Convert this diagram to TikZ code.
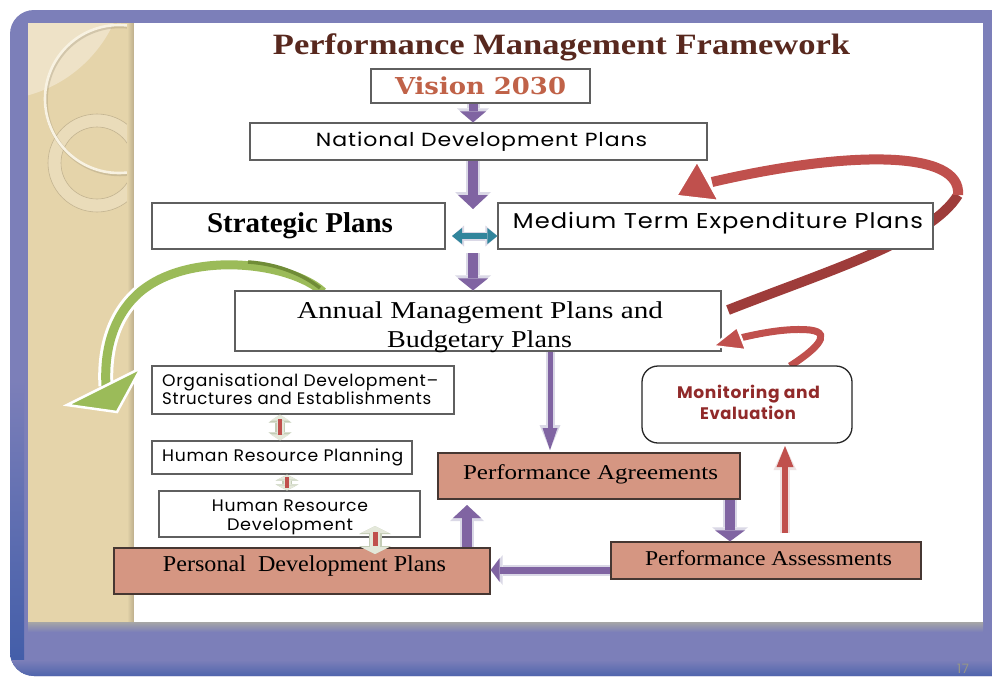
\documentclass[tikz,border=0pt]{standalone}
\usepackage{fontspec}
\usepackage{graphicx}
\usetikzlibrary{arrows.meta,fit}
\newfontfamily\popf{Poppins}[LetterSpace=4]
\newfontfamily\dvs{DejaVu Serif}
\newfontfamily\lser{Liberation Serif}
\newcommand\fitw[2]{\resizebox{#1pt}{\height}{#2}}
\newcommand\fs[1]{\fontsize{#1}{#1}\selectfont}
\definecolor{frameblue}{RGB}{124,127,185}
\definecolor{framedark}{RGB}{64,92,168}
\definecolor{beige}{RGB}{229,212,170}
\definecolor{beigelt}{RGB}{238,226,199}
\definecolor{ringc}{RGB}{248,242,226}
\definecolor{titlec}{RGB}{88,40,30}
\definecolor{visionc}{RGB}{192,98,72}
\definecolor{salmon}{RGB}{213,150,130}
\definecolor{sboxline}{RGB}{70,55,50}
\definecolor{boxline}{RGB}{95,95,95}
\definecolor{purp}{RGB}{128,100,162}
\definecolor{glowc}{RGB}{218,216,230}
\definecolor{tealc}{RGB}{49,133,156}
\definecolor{redA}{RGB}{192,80,77}
\definecolor{redD}{RGB}{158,60,58}
\definecolor{redglow}{RGB}{238,226,226}
\definecolor{greenA}{RGB}{155,187,89}
\definecolor{greenD}{RGB}{112,140,55}
\definecolor{monc}{RGB}{145,42,42}
\definecolor{smallc}{RGB}{228,232,218}
\definecolor{smalle}{RGB}{196,205,182}
\definecolor{pagec}{RGB}{150,150,135}
\tikzset{
  box/.style={draw=boxline, line width=1.2pt, fill=white, inner sep=0pt},
  sbox/.style={draw=sboxline, line width=1.4pt, fill=salmon, inner sep=0pt},
  mbox/.style={draw=black!85, line width=1.3pt, fill=white, rounded corners=16pt, inner sep=0pt},
  txt/.style={inner sep=0pt, anchor=base},
  txtw/.style={inner sep=0pt, anchor=base west},
}
\begin{document}
\begin{tikzpicture}[x=1pt,y=-1pt]
\useasboundingbox (0,0) rectangle (992,678);
\fill[white] (0,0) rectangle (992,678);
% slide frame
\fill[frameblue, rounded corners=24pt] (10,10) rectangle (1030,676);
\begin{scope}
  \clip[rounded corners=24pt] (10,10) rectangle (1030,676);
  \shade[top color=frameblue, bottom color=framedark] (10,380) rectangle (24,676);
  \shade[top color=frameblue, bottom color=framedark!75!frameblue] (10,660) rectangle (992,676);
\end{scope}
% beige strip with circles
\fill[beige] (28,23) rectangle (134,622);
\begin{scope}
  \clip (28,23) rectangle (134,622);
  \fill[beigelt] (-7,-33) circle (133);
  \fill[beigelt!55!beige, even odd rule] (97,163) circle (49) (97,163) circle (36);
  \draw[beige!85!black, line width=0.6pt] (97,163) circle (49);
  \draw[beige!85!black, line width=0.6pt] (97,163) circle (36);
  \draw[beige!70!black, line width=3.5pt, opacity=0.35] (120,100.5) circle (74);
  \draw[ringc, line width=2.6pt] (119,99) circle (74);
  \shade[left color=beige, right color=beige!82!black] (127,23) rectangle (134,622);
\end{scope}
% white content area
\fill[white] (134,23) rectangle (983,622);
\shade[top color=black!35, bottom color=frameblue] (28,622) rectangle (983,632);

% green curved arrow
\draw[white, line width=15pt] (323,292) .. controls (290,262) and (190,250) .. (140,292) .. controls (112,316) and (104,352) .. (106,386);
\draw[greenA, line width=9pt] (323,292) .. controls (290,262) and (190,250) .. (140,292) .. controls (112,316) and (104,352) .. (106,386);
\draw[greenD, line width=3.5pt] (320,288) .. controls (305,276) and (280,264) .. (248,262);
\filldraw[fill=greenA, draw=white, line width=2.5pt, line join=miter] (67,405) -- (141,368) -- (117,412) -- cycle;

% big red curved arrow
\draw[white, line width=16pt] (728,310) .. controls (830,270) and (930,240) .. (958,195) .. controls (962,150) and (850,150) .. (712,182);
\draw[redD, line width=10pt] (728,310) .. controls (830,270) and (930,240) .. (958,195);
\draw[redA, line width=10pt] (958,195) .. controls (962,150) and (850,150) .. (712,182);
\filldraw[fill=redA, draw=white, line width=2.5pt, line join=miter] (676,196) -- (697,161) -- (719,201) -- cycle;

% boxes
\node[box, fit={(371,69) (590,103)}] (vision) {};
\node[box, fit={(250,123) (707,160)}] (ndp) {};
\node[box, fit={(152,203) (445,249)}] (strat) {};
\node[box, fit={(498,203) (933,249)}] (mtep) {};
\node[box, fit={(235,291) (721,351)}] (amp) {};
\node[box, fit={(152,366) (454,414)}] (org) {};
\node[box, fit={(152,441) (412,474)}] (hrp) {};
\node[box, fit={(159,491) (420,537)}] (hrd) {};
\node[sbox, fit={(114,548) (490,594)}] (pdp) {};
\node[sbox, fit={(438,453) (740,499)}] (pa) {};
\node[sbox, fit={(611,542) (921,579)}] (pas) {};

% small red curved arrow (Monitoring -> Annual plans)
\draw[white, line width=12pt] (790,366) .. controls (812,352) and (835,333) .. (810,330) .. controls (790,328) and (765,332) .. (740,338);
\draw[redA, line width=7pt] (790,366) .. controls (812,352) and (835,333) .. (810,330) .. controls (790,328) and (765,332) .. (740,338);
\filldraw[fill=redA, draw=white, line width=2.2pt, line join=miter] (713,346) -- (737,327) -- (746,350) -- cycle;
\node[mbox, fit={(642,366) (852,443)}] (me) {};

% purple block arrows
\coordinate (a2e) at (473,209);
\coordinate (a3s) at (473,253);
\coordinate (a4e) at (550,450);
\coordinate (a7e) at (467,505);
\coordinate (rs) at (785,533);
\coordinate (re) at (785,446);
\coordinate (ts) at (452,236);
\draw[glowc, line width=13pt, -{Triangle[length=14pt,width=32pt,line width=0pt]}] (473,0 |- vision.south) -- (473,0 |- ndp.north);
\draw[purp, line width=9pt, -{Triangle[length=11pt,width=26pt,line width=0pt]}] (473,0 |- vision.south) -- (473,0 |- ndp.north);
\draw[glowc, line width=14pt, -{Triangle[length=17pt,width=36pt,line width=0pt]}] (473,0 |- ndp.south) -- (a2e);
\draw[purp, line width=10pt, -{Triangle[length=14pt,width=30pt,line width=0pt]}] (473,0 |- ndp.south) -- (a2e);
\draw[glowc, line width=14pt, -{Triangle[length=15pt,width=36pt,line width=0pt]}] (a3s) -- (473,0 |- amp.north);
\draw[purp, line width=10pt, -{Triangle[length=12pt,width=30pt,line width=0pt]}] (a3s) -- (473,0 |- amp.north);
\draw[glowc, line width=9pt, -{Triangle[length=25pt,width=21pt,line width=0pt]}] (550,0 |- amp.south) -- (a4e);
\draw[purp, line width=5pt, -{Triangle[length=22pt,width=15pt,line width=0pt]}] (550,0 |- amp.south) -- (a4e);
\draw[glowc, line width=14pt, -{Triangle[length=14pt,width=36pt,line width=0pt]}] (730,0 |- pa.south) -- (730,0 |- pas.north);
\draw[purp, line width=10pt, -{Triangle[length=11pt,width=30pt,line width=0pt]}] (730,0 |- pa.south) -- (730,0 |- pas.north);
\draw[glowc, line width=11pt, -{Triangle[length=12pt,width=30pt,line width=0pt]}] (pas.west |- 0,570) -- (pdp.east |- 0,570);
\draw[purp, line width=7pt, -{Triangle[length=9pt,width=24pt,line width=0pt]}] (pas.west |- 0,570) -- (pdp.east |- 0,570);
\draw[glowc, line width=14pt, -{Triangle[length=16pt,width=34pt,line width=0pt]}] (467,0 |- pdp.north) -- (a7e);
\draw[purp, line width=10pt, -{Triangle[length=13pt,width=28pt,line width=0pt]}] (467,0 |- pdp.north) -- (a7e);
% red up arrow
\draw[redglow, line width=10pt, -{Triangle[length=24pt,width=23pt,line width=0pt]}] (rs) -- (re);
\draw[redA, line width=6pt, -{Triangle[length=21pt,width=17pt,line width=0pt]}] (rs) -- (re);
% teal double arrow
\draw[glowc, line width=9pt, {Triangle[length=12pt,width=21pt,line width=0pt]}-{Triangle[length=12pt,width=21pt,line width=0pt]}] (ts) -- (mtep.west |- ts);
\draw[tealc, line width=6pt, {Triangle[length=10pt,width=16pt,line width=0pt]}-{Triangle[length=10pt,width=16pt,line width=0pt]}] (ts) -- (mtep.west |- ts);
% small double arrows (left column)
\draw[smalle, line width=10pt, {Triangle[length=8pt,width=23pt,line width=0pt]}-{Triangle[length=8pt,width=23pt,line width=0pt]}] (280,0 |- org.south) -- (280,0 |- hrp.north);
\draw[smallc, line width=7pt, {Triangle[length=6pt,width=19pt,line width=0pt]}-{Triangle[length=6pt,width=19pt,line width=0pt]}] (280,0 |- org.south) -- (280,0 |- hrp.north);
\draw[redA, line width=3.5pt] (280,419) -- (280,435);
\draw[smalle, line width=10pt, {Triangle[length=6pt,width=23pt,line width=0pt]}-{Triangle[length=6pt,width=23pt,line width=0pt]}] (287,0 |- hrp.south) -- (287,0 |- hrd.north);
\draw[smallc, line width=7pt, {Triangle[length=5pt,width=19pt,line width=0pt]}-{Triangle[length=5pt,width=19pt,line width=0pt]}] (287,0 |- hrp.south) -- (287,0 |- hrd.north);
\draw[redA, line width=3.5pt] (287,477) -- (287,488);
\coordinate (s3a) at (375,526);
\coordinate (s3b) at (375,554);
\draw[smalle, line width=13pt, {Triangle[length=8pt,width=32pt,line width=0pt]}-{Triangle[length=8pt,width=32pt,line width=0pt]}] (s3a) -- (s3b);
\draw[smallc, line width=10pt, {Triangle[length=7pt,width=28pt,line width=0pt]}-{Triangle[length=7pt,width=28pt,line width=0pt]}] (s3a) -- (s3b);
\draw[redA, line width=5pt] (375,532) -- (375,546);

% texts
\node[txt, text=titlec] (title) at (561.5,54) {\fitw{577}{\lser\fs{29.5}\bfseries Performance Management Framework}};
\node[txt, text=visionc] (visionT) at (480.5,94) {\fitw{171}{\dvs\fs{23.3}\bfseries Vision 2030}};
\node[txt] (ndpT) at (481.5,146.7) {\fitw{331}{\popf\fs{19}National Development Plans}};
\node[txt] (stratT) at (300,232.3) {\fitw{186}{\lser\fs{28.7}\bfseries Strategic Plans}};
\node[txt] (mtepT) at (718,228.3) {\fitw{410}{\popf\fs{21.4}Medium Term Expenditure Plans}};
\node[txt] (ampT1) at (480,318.3) {\fitw{366}{\lser\fs{24.2}Annual Management Plans and}};
\node[txt] (ampT2) at (479.5,347.3) {\fitw{185}{\lser\fs{24.2}Budgetary Plans}};
\node[txtw] (orgT1) at (162,386.7) {\fitw{276}{\popf\fs{16.7}Organisational Development–}};
\node[txtw] (orgT2) at (162,404.3) {\fitw{269}{\popf\fs{16.7}Structures and Establishments}};
\node[txtw] (hrpT) at (162,461.7) {\fitw{241}{\popf\fs{16.7}Human Resource Planning}};
\node[txt] (hrdT1) at (290,511.7) {\fitw{156}{\popf\fs{16.7}Human Resource}};
\node[txt] (hrdT2) at (290,530.7) {\fitw{126}{\popf\fs{16.7}Development}};
\node[txt] (pdpT) at (304.5,571.7) {\fitw{283}{\lser\fs{22.7}Personal~~Development Plans}};
\node[txt] (paT) at (590.5,479.3) {\fitw{255}{\lser\fs{21.1}Performance Agreements}};
\node[txt] (pasT) at (768.5,565.7) {\fitw{247}{\lser\fs{21.1}Performance Assessments}};
\node[txt, text=monc] (meT1) at (748.5,398.3) {\fitw{143}{\popf\bfseries\fs{16.7}Monitoring and}};
\node[txt, text=monc] (meT2) at (748,419) {\fitw{96}{\popf\bfseries\fs{16.7}Evaluation}};
\node[txt, text=pagec] (pnum) at (963,673) {\popf\fs{13}17};
\end{tikzpicture}
\end{document}
